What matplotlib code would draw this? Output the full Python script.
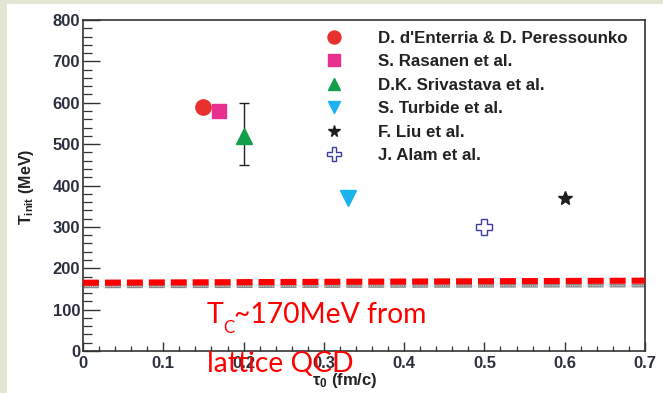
import matplotlib
matplotlib.use("Agg")
import matplotlib.pyplot as plt
from matplotlib.patches import Rectangle
from matplotlib.ticker import MultipleLocator

plt.rcParams['mathtext.fontset'] = 'custom'
plt.rcParams['mathtext.rm'] = 'Liberation Sans:bold'
plt.rcParams['mathtext.bf'] = 'Liberation Sans:bold'
plt.rcParams['mathtext.it'] = 'Liberation Sans:italic'

# ---- data ----
labels = ["D. d'Enterria & D. Peressounko", "S. Rasanen et al.", "D.K. Srivastava et al.",
          "S. Turbide et al.", "F. Liu et al.", "J. Alam et al."]
tau0 = [0.15, 0.17, 0.20, 0.33, 0.60, 0.50]
tinit = [590, 580, 520, 370, 370, 300]
err_lo = [0, 0, 70, 0, 0, 0]
err_hi = [0, 0, 80, 0, 0, 0]
tc_x = [0.0, 0.7]
tc_red = [165, 170]
tc_gray = [156, 158]
xticks = [0, 0.1, 0.2, 0.3, 0.4, 0.5, 0.6, 0.7]
yticks = [0, 100, 200, 300, 400, 500, 600, 700, 800]

W, H = 663, 393
fig = plt.figure(figsize=(W / 100, H / 100), dpi=100, facecolor='#e3e5d3')
fig.patches.append(Rectangle((7 / W, 0), 1 - 7 / W, 1 - 4 / H, transform=fig.transFigure,
                             facecolor='white', edgecolor='none', zorder=-10))
ax = fig.add_axes([83 / W, 1 - 351 / H, (645 - 83) / W, (351 - 20) / H])
ax.set_facecolor('white')

ax.set_xlim(0, 0.7)
ax.set_ylim(0, 800)

tick_col = '#2c2f3d'
# Tc lines
ax.plot(tc_x, tc_gray, color='#8a8a8a', lw=2.6, solid_capstyle='butt',
        dashes=(11.5 / 2.6, 4.3 / 2.6), zorder=2)
ax.plot(tc_x, tc_gray, color='#d8d8d8', lw=0.8, dashes=(1, 1), zorder=2.1)
ax.plot(tc_x, tc_red, color='#ff0000', lw=4.4, solid_capstyle='butt',
        dashes=(11.5 / 4.4, 4.3 / 4.4), zorder=3)

styles = [
    dict(marker='o', color='#e8302e', ms=11, mec='#e8302e'),
    dict(marker='s', color='#e8308f', ms=10, mec='#e8308f'),
    dict(marker='^', color='#12a04c', ms=11, mec='#12a04c'),
    dict(marker='v', color='#1bb3ef', ms=11, mec='#1bb3ef'),
    dict(marker='*', color='#1e1e1e', ms=10, mec='#1e1e1e'),
    dict(marker='P', color='white', ms=12, mec='#3c3ca0', mew=1.0),
]
handles = []
for i in range(len(labels)):
    st = styles[i]
    h, = ax.plot([tau0[i]], [tinit[i]], linestyle='none', marker=st['marker'],
                 markerfacecolor=st['color'], markeredgecolor=st['mec'],
                 markersize=st['ms'], markeredgewidth=st.get('mew', 1.0),
                 label=labels[i], zorder=5)
    handles.append(h)
    if err_lo[i] or err_hi[i]:
        ax.errorbar([tau0[i]], [tinit[i]], yerr=[[err_lo[i]], [err_hi[i]]], fmt='none',
                    ecolor='#222222', elinewidth=1.0, capsize=3.5, capthick=1.0, zorder=4)

leg = ax.legend(handles=handles, loc='upper left', bbox_to_anchor=(0.412, 1.003),
                frameon=False, handlelength=0.9, handletextpad=2.15, labelspacing=0.5,
                borderaxespad=0.3, markerscale=0.85,
                prop={'family': 'Liberation Sans', 'weight': 'bold', 'size': 12.2})
for t in leg.get_texts():
    t.set_color('#222222')

# ticks
ax.set_xticks(xticks)
ax.set_yticks(yticks)
ax.set_xticklabels(['0', '0.1', '0.2', '0.3', '0.4', '0.5', '0.6', '0.7'])
ax.set_yticklabels([str(v) for v in yticks])
ax.xaxis.set_minor_locator(MultipleLocator(0.02))
ax.yaxis.set_minor_locator(MultipleLocator(20))
ax.tick_params(axis='x', which='major', direction='in', length=6.5, width=1.0,
               color='#333333', pad=3.5, labelsize=12, labelcolor=tick_col)
ax.tick_params(axis='x', which='minor', direction='in', length=3.3, width=0.9, color='#333333')
ax.tick_params(axis='y', which='major', direction='in', length=12, width=1.0,
               color='#333333', pad=2.0, labelsize=12, labelcolor=tick_col)
ax.tick_params(axis='y', which='minor', direction='in', length=6.5, width=0.9, color='#333333')
for lab in ax.get_xticklabels() + ax.get_yticklabels():
    lab.set_fontfamily('Liberation Sans')
    lab.set_fontweight('bold')
for s in ax.spines.values():
    s.set_color('#333333')
    s.set_linewidth(1.2)

ax.text(-0.1, 0.495, r'T$_\mathbf{init}$ (MeV)', transform=ax.transAxes, rotation=90,
        ha='center', va='center', fontsize=11.5, fontweight='bold', family='Liberation Sans',
        color='#222222')
ax.text(0.466, -0.09, r'$\mathbf{\tau_0}$ (fm/c)', transform=ax.transAxes,
        ha='center', va='center', fontsize=12, fontweight='bold', family='Liberation Sans',
        color='#222222')

# red annotation (pixel placement relative to the figure)
red = '#ff0000'
fs_big = 20.3
fig.canvas.draw()
renderer = fig.canvas.get_renderer()
x0, base1, base2 = 207, 323, 372
tT = fig.text(x0 / W, 1 - base1 / H, 'T', fontsize=fs_big, family='Lato', color=red,
              ha='left', va='baseline', zorder=20)
bbT = tT.get_window_extent(renderer)
tC = fig.text(bbT.x1 / W - 0.5 / W, 1 - (base1 + 10) / H, 'C', fontsize=fs_big * 0.6,
              family='Lato', color=red, ha='left', va='baseline', zorder=20)
bbC = tC.get_window_extent(renderer)
fig.text(bbC.x1 / W, 1 - base1 / H, '~170MeV from', fontsize=fs_big, family='Lato',
         color=red, ha='left', va='baseline', zorder=20)
fig.text(x0 / W, 1 - base2 / H, 'lattice QCD', fontsize=fs_big, family='Lato', color=red,
         ha='left', va='baseline', zorder=20)

fig.savefig('out.png', dpi=100, facecolor=fig.get_facecolor())
